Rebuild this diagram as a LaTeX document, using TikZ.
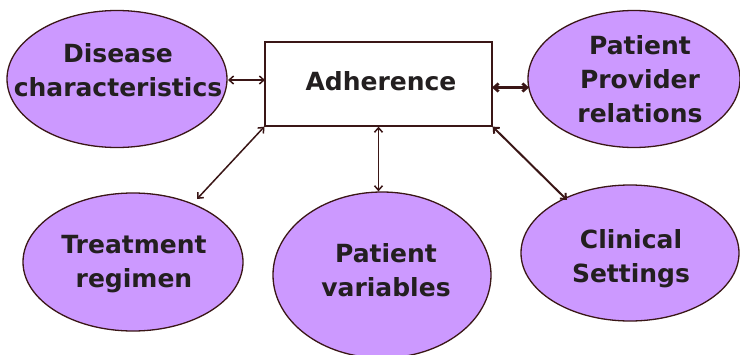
\documentclass[tikz,border=0pt]{standalone}
\usepackage{fontspec}
\setmainfont{DejaVu Sans}
\usetikzlibrary{arrows.meta,shapes.geometric}
\definecolor{bubble}{HTML}{CC99FF}
\definecolor{edge}{HTML}{3A1616}
\definecolor{ink}{HTML}{231F20}
\begin{document}
\begin{tikzpicture}[x=1pt,y=-1pt,
  bub/.style={ellipse,draw=edge,line width=1.3pt,fill=bubble,inner sep=0pt},
  lbl/.style={align=center,text=ink,inner sep=0pt,font=\bfseries\fontsize{25}{34}\selectfont},
  link/.style={draw=edge,line width=1.5pt,{Straight Barb[length=4.5pt,width=8pt]}-{Straight Barb[length=4.5pt,width=8pt]}}
]
\useasboundingbox (0,0) rectangle (740,354);
\node[bub,minimum width=220pt,minimum height=137pt] (dis) at (117,79) {};
\node[bub,minimum width=212pt,minimum height=137pt] (ppr) at (634,79) {};
\node[bub,minimum width=220pt,minimum height=138pt] (trt) at (133,262) {};
\node[bub,minimum width=218pt,minimum height=166pt] (pvar) at (382,275) {};
\node[bub,minimum width=218pt,minimum height=136pt] (cli) at (630,253) {};
\node[draw=edge,line width=1.3pt,fill=white,minimum width=227pt,minimum height=84pt,inner sep=0pt] (adh) at (378.5,84) {};
\node[lbl] (tadh) at (381,81.5) {Adherence};
\node[lbl] (tdis) at (118,70) {Disease\\characteristics};
\node[lbl] (tppr) at (640,79) {Patient\\Provider\\relations};
\node[lbl] (ttrt) at (134,264) {Treatment\\regimen};
\node[lbl] (tpvar) at (386,270) {Patient\\variables};
\node[lbl] (tcli) at (631,259) {Clinical\\Settings};
\coordinate (a1) at (228,80);
\coordinate (a2) at (265,80);
\draw[link] (a1) -- (a2);
\coordinate (b1) at (492,87.5);
\coordinate (b2) at (529,87.5);
\draw[link,line width=2.8pt] (b1) -- (b2);
\coordinate (c2) at (197,199);
\draw[link] (adh.south west) -- (c2);
\coordinate (v2) at (adh.south |- pvar.north);
\draw[link] (adh.south) -- (v2);
\coordinate (d2) at (567,200);
\draw[link,line width=2pt] (adh.south east) -- (d2);
\end{tikzpicture}
\end{document}
